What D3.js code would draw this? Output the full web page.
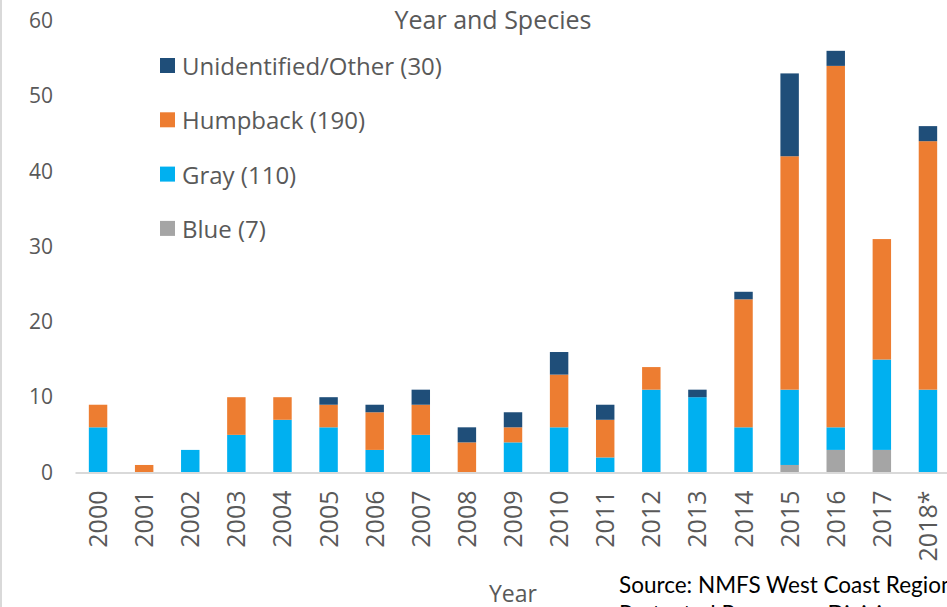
<!DOCTYPE html>
<html lang="en">
<head>
    <meta charset="UTF-8">
    <title>Whale Entanglements by Year and Species</title>
    <script src="https://d3js.org/d3.v7.min.js"></script>
    <style>
        body {
            margin: 0;
            background-color: white;
            overflow: hidden;
        }
        text {
            font-family: "Open Sans", sans-serif;
        }
    </style>
</head>
<body>
    <div id="chart"></div>
    <script>
        // Data
        const years = ["2000", "2001", "2002", "2003", "2004", "2005", "2006", "2007", "2008", "2009",
                       "2010", "2011", "2012", "2013", "2014", "2015", "2016", "2017", "2018*"];
        const blue         = [0, 0, 0, 0, 0, 0, 0, 0, 0, 0, 0, 0, 0, 0, 0, 1, 3, 3, 0];
        const gray         = [6, 0, 3, 5, 7, 6, 3, 5, 0, 4, 6, 2, 11, 10, 6, 10, 3, 12, 11];
        const humpback     = [3, 1, 0, 5, 3, 3, 5, 4, 4, 2, 7, 5, 3, 0, 17, 31, 48, 16, 33];
        const unidentified = [0, 0, 0, 0, 0, 1, 1, 2, 2, 2, 3, 2, 0, 1, 1, 11, 2, 0, 2];
        const yTicks = [0, 10, 20, 30, 40, 50, 60];

        const seriesKeys = ["blue", "gray", "humpback", "unidentified"];
        const seriesLabels = {
            unidentified: "Unidentified/Other (30)",
            humpback: "Humpback (190)",
            gray: "Gray (110)",
            blue: "Blue (7)"
        };
        const colors = {
            unidentified: "#1F4E79",
            humpback: "#ED7D31",
            gray: "#00B0F0",
            blue: "#A5A5A5"
        };

        const width = 947, height = 607;

        const svg = d3.select("#chart")
          .append("svg")
            .attr("width", width)
            .attr("height", height);

        // left frame edge
        svg.append("line")
            .attr("x1", 1).attr("x2", 1)
            .attr("y1", 0).attr("y2", height)
            .attr("stroke", "#D9D9D9")
            .attr("stroke-width", 2);

        // Table built from the arrays
        const table = years.map((y, i) => ({
            year: y,
            blue: blue[i],
            gray: gray[i],
            humpback: humpback[i],
            unidentified: unidentified[i]
        }));

        const stacked = d3.stack().keys(seriesKeys)(table);

        const x = d3.scaleBand()
            .domain(years)
            .range([75, 951])
            .paddingInner(0.6)
            .paddingOuter(0.3);

        const y = d3.scaleLinear()
            .domain([0, 60])
            .range([472.5, 20.7]);

        // y axis labels (no line)
        const yAxis = svg.append("g")
            .attr("transform", "translate(60,0)")
            .call(d3.axisLeft(y).tickValues(yTicks).tickSize(0).tickPadding(7));
        yAxis.select(".domain").remove();
        yAxis.selectAll("text")
            .attr("fill", "#595959")
            .style("font-size", "21px");

        // bars
        svg.append("g")
          .selectAll("g")
          .data(stacked)
          .join("g")
            .attr("fill", d => colors[d.key])
          .selectAll("rect")
          .data(d => d)
          .join("rect")
            .attr("x", d => x(d.data.year))
            .attr("y", d => y(d[1]))
            .attr("width", x.bandwidth())
            .attr("height", d => y(d[0]) - y(d[1]));

        // x axis
        const xAxis = svg.append("g")
            .attr("transform", `translate(0,${y(0)})`)
            .call(d3.axisBottom(x).tickSize(0).tickPadding(0));
        xAxis.select(".domain")
            .attr("stroke", "#D9D9D9")
            .attr("stroke-width", 2);
        xAxis.selectAll("text")
            .attr("fill", "#595959")
            .style("font-size", "25px")
            .attr("transform", "rotate(-90)")
            .attr("text-anchor", "end")
            .attr("x", -18)
            .attr("y", 0)
            .attr("dy", "0.36em");

        // title
        svg.append("text")
            .attr("x", 493)
            .attr("y", 29)
            .attr("text-anchor", "middle")
            .attr("fill", "#595959")
            .style("font-size", "25px")
            .text("Year and Species");

        // legend
        const legendOrder = ["unidentified", "humpback", "gray", "blue"];
        const legend = svg.append("g")
          .selectAll("g")
          .data(legendOrder)
          .join("g")
            .attr("transform", (d, i) => `translate(160,${58 + i * 54.3})`);
        legend.append("rect")
            .attr("width", 15)
            .attr("height", 15)
            .attr("fill", d => colors[d]);
        legend.append("text")
            .attr("x", 22)
            .attr("y", 17)
            .attr("fill", "#595959")
            .style("font-size", "24px")
            .text(d => seriesLabels[d]);

        // axis title
        svg.append("text")
            .attr("x", 513)
            .attr("y", 602)
            .attr("text-anchor", "middle")
            .attr("fill", "#595959")
            .style("font-size", "23px")
            .text("Year");

        // source note
        svg.append("text")
            .attr("x", 619)
            .attr("y", 593)
            .attr("fill", "#000")
            .style("font-family", "Lato, sans-serif")
            .style("font-size", "22.5px")
            .text("Source: NMFS West Coast Region");
        svg.append("text")
            .attr("x", 619)
            .attr("y", 622)
            .attr("fill", "#000")
            .style("font-family", "Lato, sans-serif")
            .style("font-size", "22.5px")
            .text("Protected Resources Division");
    </script>
</body>
</html>
